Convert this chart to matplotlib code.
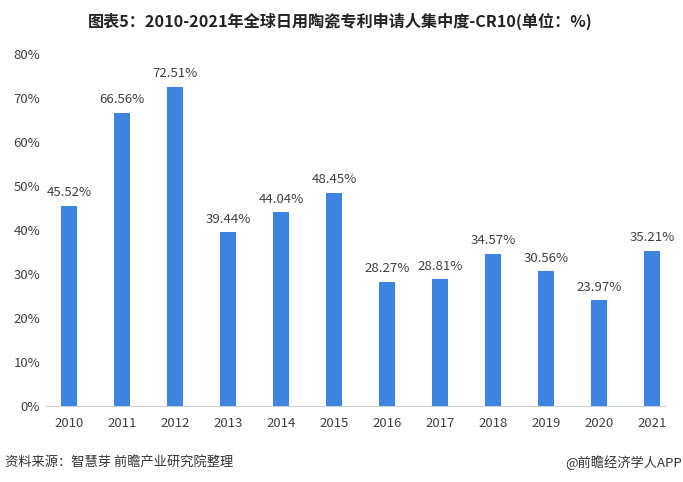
import matplotlib.pyplot as plt

plt.rcParams['font.family'] = ['Noto Sans CJK SC', 'DejaVu Sans']

years = ['2010', '2011', '2012', '2013', '2014', '2015',
         '2016', '2017', '2018', '2019', '2020', '2021']
cr10 = [45.52, 66.56, 72.51, 39.44, 44.04, 48.45,
        28.27, 28.81, 34.57, 30.56, 23.97, 35.21]
y_ticks = [0, 10, 20, 30, 40, 50, 60, 70, 80]

title = '图表5：2010-2021年全球日用陶瓷专利申请人集中度-CR10(单位：%)'
source = '资料来源：智慧芽 前瞻产业研究院整理'
brand = '@前瞻经济学人APP'

fig = plt.figure(figsize=(6.83, 4.82), dpi=100)
ax = fig.add_axes([0.066, 0.158, 0.908, 0.730])

x = range(len(years))
bars = ax.bar(x, cr10, width=0.3, color='#3d83e0')

for xi, v in zip(x, cr10):
    ax.text(xi, v + 1.5, f'{v:.2f}%', ha='center', va='bottom',
            fontsize=9.5, color='#404040')

ax.set_xticks(list(x))
ax.set_xticklabels(years)
ax.set_yticks(y_ticks)
ax.set_yticklabels([f'{t}%' for t in y_ticks])
ax.set_ylim(0, 80)
ax.set_xlim(-0.45, 11.25)

for s in ['top', 'right', 'left']:
    ax.spines[s].set_visible(False)
ax.spines['bottom'].set_color('#d0d0d0')
ax.tick_params(axis='both', length=0, labelsize=9.5, colors='#404040')
ax.tick_params(axis='x', pad=8)

fig.text(0.498, 0.955, title, ha='center', va='center', fontsize=11.6,
         fontweight='bold', color='#222222')
fig.text(0.008, 0.04, source, ha='left', va='center', fontsize=9.5, color='#333333')
fig.text(0.998, 0.04, brand, ha='right', va='center', fontsize=9.5, color='#333333')

fig.savefig('out.png', dpi=100)
